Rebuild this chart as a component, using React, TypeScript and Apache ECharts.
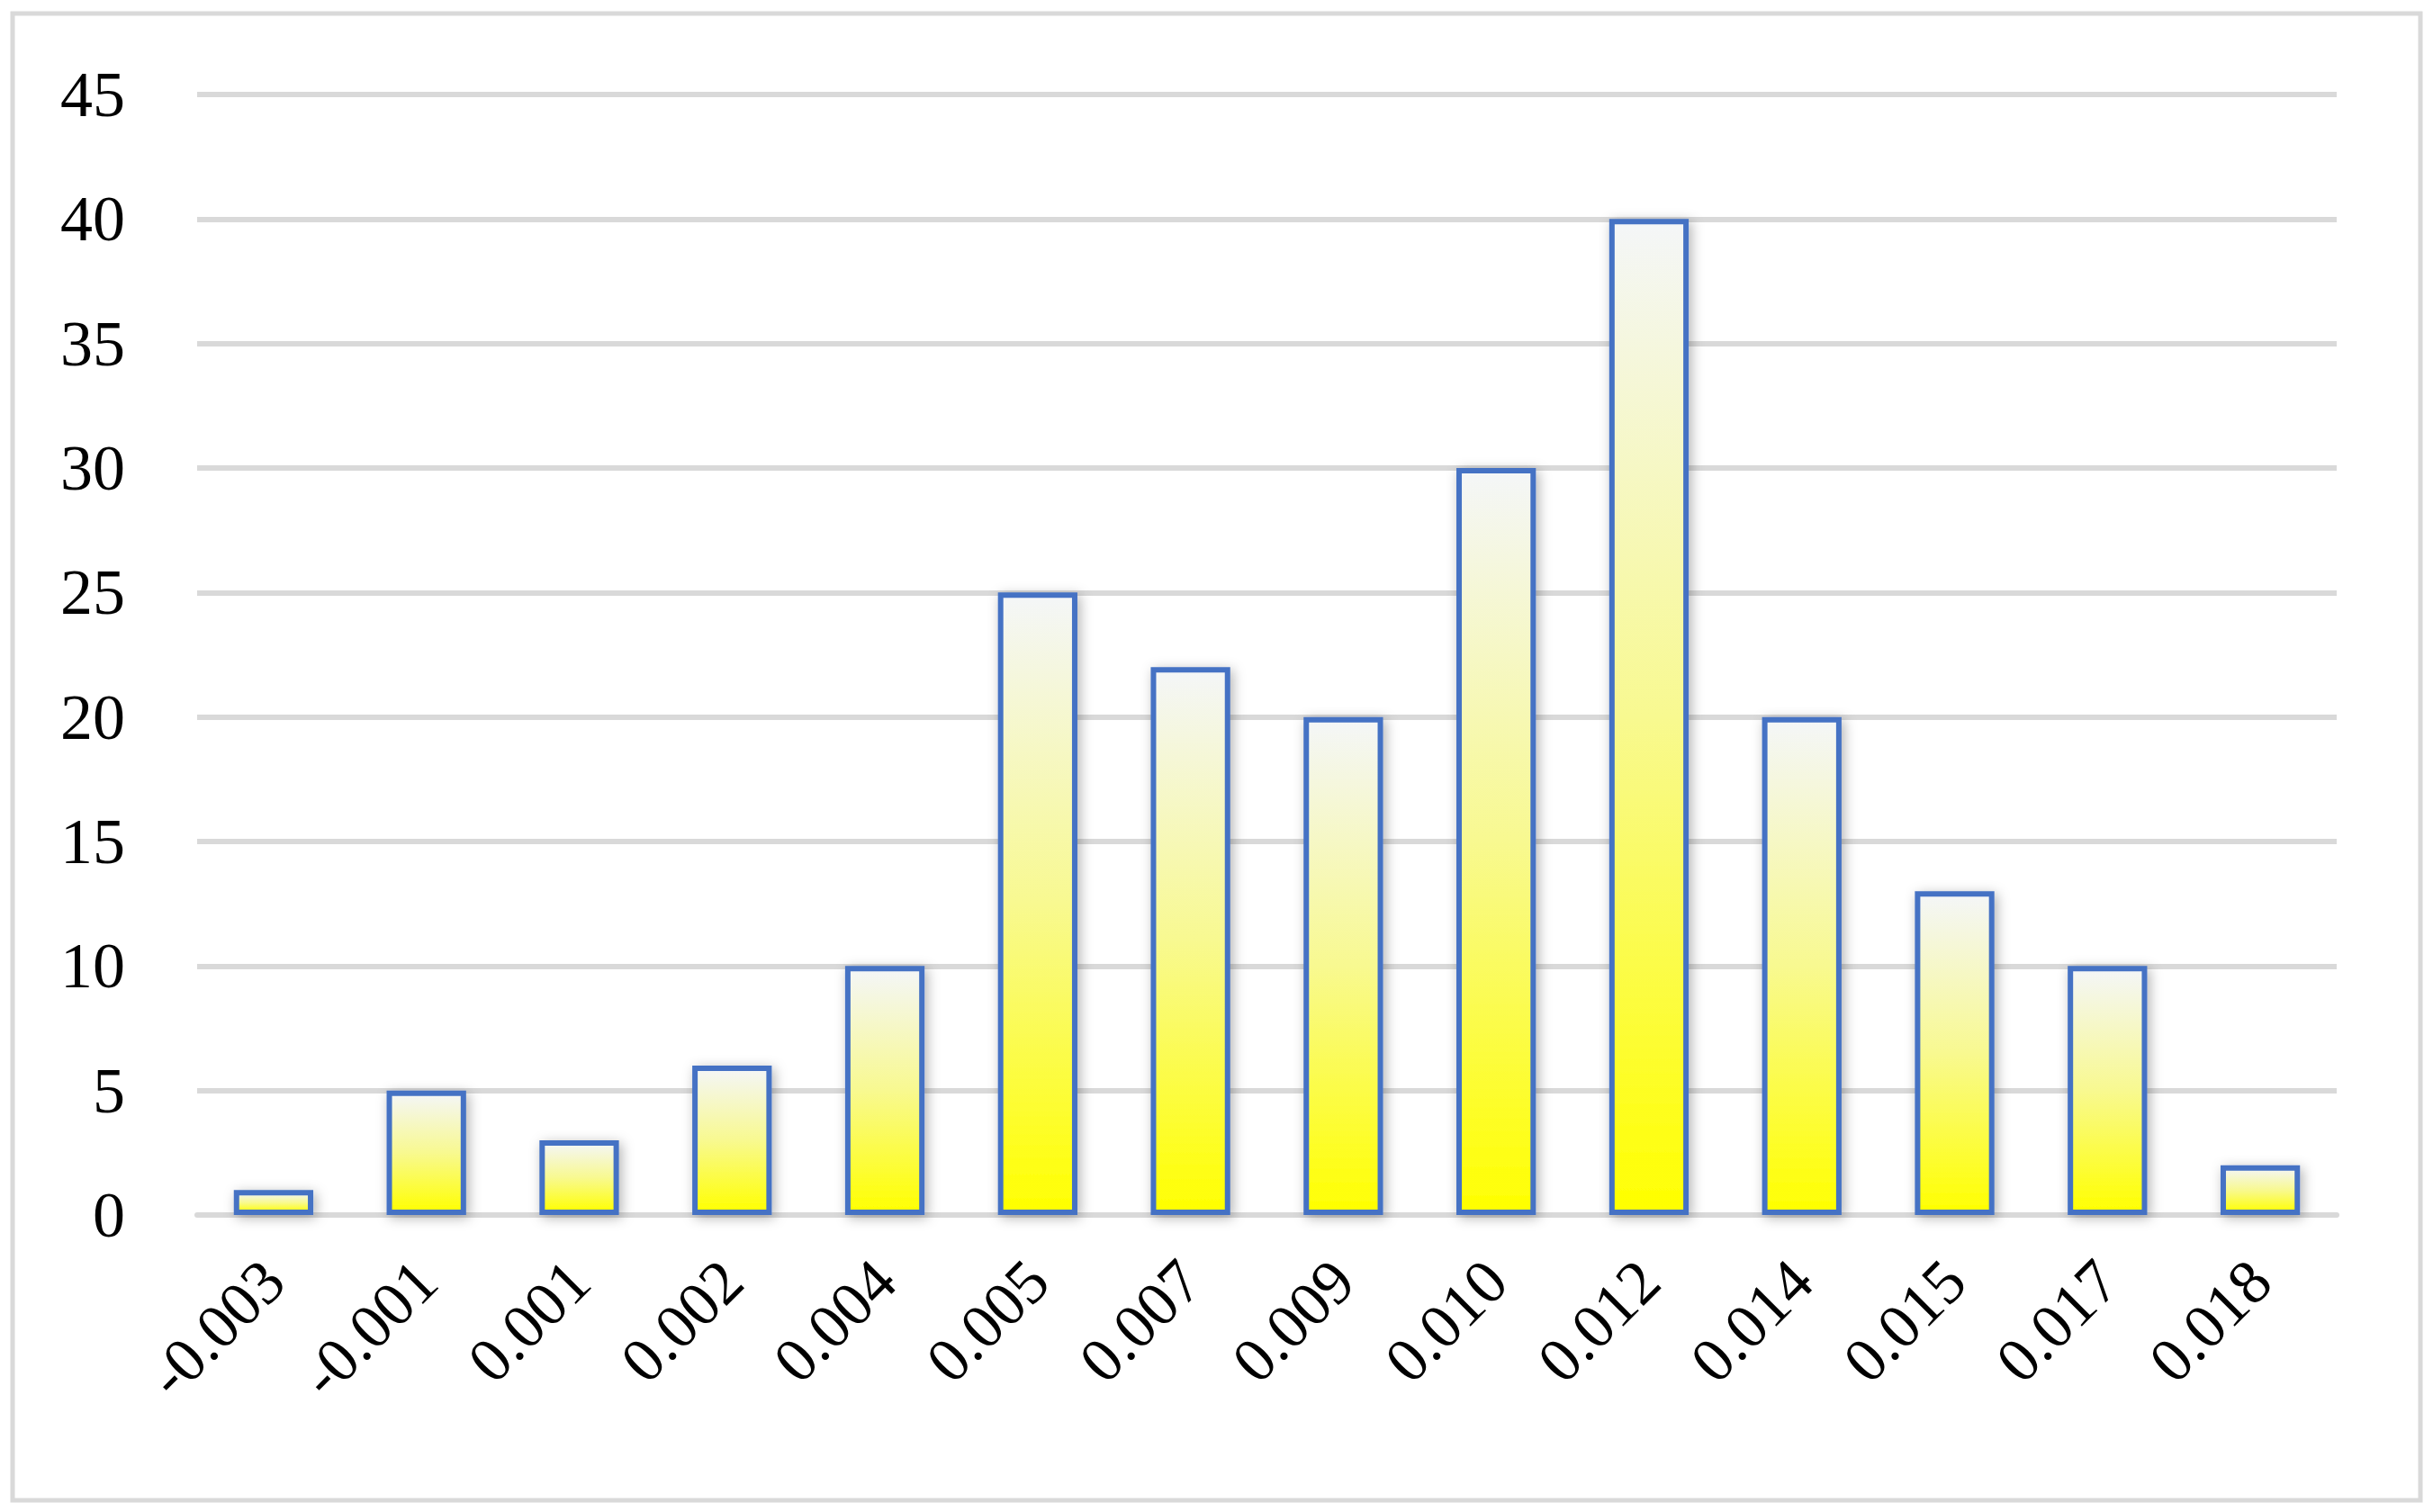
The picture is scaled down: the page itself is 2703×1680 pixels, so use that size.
import React, { useEffect, useRef } from "react";
import * as echarts from "echarts";

const categories = ["-0.003", "-0.001", "0.001", "0.002", "0.004", "0.005", "0.007", "0.009", "0.010", "0.012", "0.014", "0.015", "0.017", "0.018"];
const counts = [1, 5, 3, 6, 10, 25, 22, 20, 30, 40, 20, 13, 10, 2];
const yTicks = { min: 0, max: 45, interval: 5 };

export default function App() {
  const ref = useRef<HTMLDivElement>(null);
  useEffect(() => {
    if (!ref.current) return;
    const chart = echarts.init(ref.current, null, { renderer: "svg" });
    const font = "'Liberation Serif', 'Times New Roman', serif";
    chart.setOption({
      animation: false,
      backgroundColor: "#ffffff",
      graphic: [
        {
          type: "rect",
          shape: { x: 14, y: 15, width: 2675, height: 1652 },
          style: { fill: "none", stroke: "#d9d9d9", lineWidth: 5 },
          silent: true,
        },
      ],
      grid: { left: 219, right: 2703 - 2596, top: 105, bottom: 1680 - 1350, containLabel: false },
      xAxis: {
        type: "category",
        data: categories,
        axisLine: { show: true, lineStyle: { color: "#d9d9d9", width: 6 } },
        axisTick: { show: false },
        axisLabel: {
          rotate: 45,
          interval: 0,
          margin: 62,
          color: "#000000",
          fontFamily: font,
          fontSize: 70,
        },
      },
      yAxis: {
        type: "value",
        min: yTicks.min,
        max: yTicks.max,
        interval: yTicks.interval,
        axisLine: { show: false },
        axisTick: { show: false },
        splitLine: { show: true, lineStyle: { color: "#d9d9d9", width: 6 } },
        axisLabel: {
          margin: 80,
          color: "#000000",
          fontFamily: font,
          fontSize: 72,
        },
      },
      series: [
        {
          type: "bar",
          data: counts,
          barCategoryGap: "48%",
          itemStyle: {
            color: new echarts.graphic.LinearGradient(0, 0, 0, 1, [
              { offset: 0, color: "#f4f6f8" },
              { offset: 0.5, color: "#f8f990" },
              { offset: 1, color: "#ffff00" },
            ]),
            borderColor: "#4472c4",
            borderWidth: 6,
            shadowBlur: 14,
            shadowColor: "rgba(0,0,0,0.3)",
            shadowOffsetX: 3,
            shadowOffsetY: 3,
          },
        },
      ],
    });
    return () => chart.dispose();
  }, []);
  return (
    <div
      ref={ref}
      style={{ position: "fixed", left: 0, top: 0, width: 2703, height: 1680 }}
    />
  );
}
